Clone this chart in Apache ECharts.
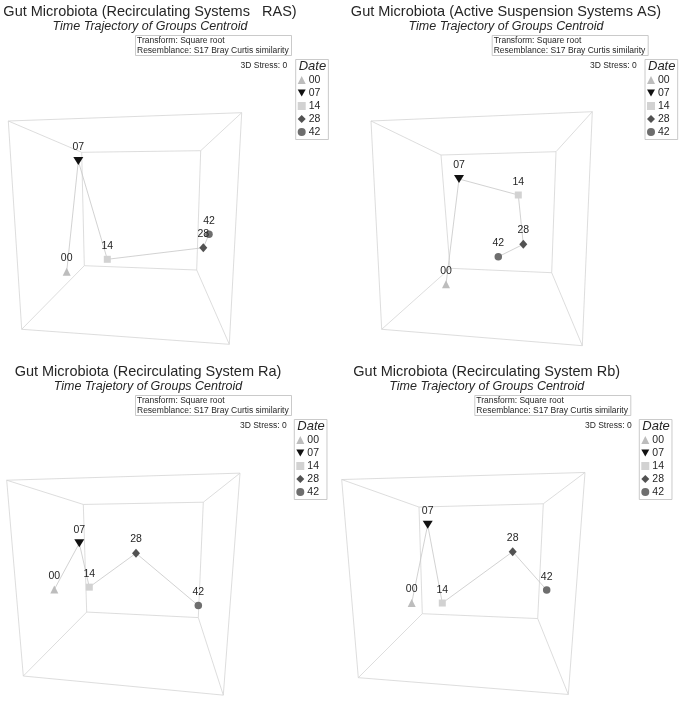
<!DOCTYPE html>
<html>
<head>
<meta charset="utf-8">
<script src="https://cdn.jsdelivr.net/npm/echarts@6/dist/echarts.min.js"></script>
<style>html,body{margin:0;padding:0;background:#fff}#c{width:680px;height:709px}</style>
</head>
<body>
<div id="c"></div>
<script>
// ---------- DATA ----------
const dates = ['00', '07', '14', '28', '42'];
const panelTitles = [
  'Gut Microbiota (Recirculating Systems   RAS)',
  'Gut Microbiota (Active Suspension Systems AS)',
  'Gut Microbiota (Recirculating System Ra)',
  'Gut Microbiota (Recirculating System Rb)'
];
const panelSubtitles = [
  'Time Trajectory of Groups Centroid',
  'Time Trajectory of Groups Centroid',
  'Time Trajetory of Groups Centroid',
  'Time Trajectory of Groups Centroid'
];
const infoText = 'Transform: Square root\nResemblance: S17 Bray Curtis similarity';
const stressText = '3D Stress: 0';
const legendTitle = 'Date';

// projected centroid positions (order = dates)
const rasX = [66.7, 78.3, 107.3, 203.3, 209.0];
const rasY = [271.7, 161.0, 259.3, 247.7, 234.3];
const asX  = [106.0, 119.0, 178.3, 183.3, 158.3];
const asY  = [284.3, 179.0, 195.0, 244.3, 256.7];
const raX  = [54.3, 79.3, 89.3, 136.0, 198.3];
const raY  = [236.7, 189.0, 234.3, 199.3, 253.3];
const rbX  = [71.7, 87.7, 102.3, 172.7, 206.7];
const rbY  = [250.7, 170.0, 250.7, 197.7, 237.3];

// projected 3D box corners: outer TL,TR,BR,BL then inner TL,TR,BR,BL
const rasBoxX = [8.3, 241.7, 229.3, 21.7, 81.7, 200.7, 196.7, 84.3];
const rasBoxY = [121.0, 112.7, 344.3, 329.3, 152.3, 150.7, 270.0, 265.7];
const asBoxX  = [31.0, 252.3, 242.3, 41.7, 101.0, 216.0, 211.7, 110.0];
const asBoxY  = [121.0, 111.7, 345.7, 329.3, 155.0, 151.7, 272.7, 268.3];
const raBoxX  = [6.7, 240.0, 223.3, 23.3, 83.3, 203.3, 198.3, 86.7];
const raBoxY  = [124.0, 116.7, 345.7, 326.0, 149.0, 146.7, 265.7, 260.0];
const rbBoxX  = [1.7, 245.0, 228.3, 18.3, 79.0, 203.3, 197.7, 82.3];
const rbBoxY  = [123.3, 116.0, 345.0, 327.7, 151.7, 148.3, 266.7, 261.7];

const boxEdges = [[0,1],[1,2],[2,3],[3,0],[4,5],[5,6],[6,7],[7,4],[0,4],[1,5],[2,6],[3,7]];

// ---------- LAYOUT / STYLE ----------
const panels = [
  {x: rasX, y: rasY, bx: rasBoxX, by: rasBoxY, ox: 0,   oy: 0,   tc: 150,   sc: 150,   info: 135,   stress: 287.3, leg: 295.7},
  {x: asX,  y: asY,  bx: asBoxX,  by: asBoxY,  ox: 340, oy: 0,   tc: 166,   sc: 165,   info: 151.7, stress: 296.7, leg: 305},
  {x: raX,  y: raY,  bx: raBoxX,  by: raBoxY,  ox: 0,   oy: 360, tc: 148,   sc: 151,   info: 135,   stress: 286.7, leg: 294.3},
  {x: rbX,  y: rbY,  bx: rbBoxX,  by: rbBoxY,  ox: 340, oy: 360, tc: 146.7, sc: 149.5, info: 134.3, stress: 291.7, leg: 299.3}
];
const FONT = 'Liberation Sans, Arial, sans-serif';
const TXT = '#262626';
const downTri = 'path://M0,0L10,0L5,9Z';
const markerStyles = {
  '00': {symbol: 'triangle', size: [8, 8], color: '#bdbdbd'},
  '07': {symbol: downTri, size: [10, 8], color: '#111111'},
  '14': {symbol: 'rect', size: [7, 7], color: '#d2d2d2'},
  '28': {symbol: 'diamond', size: [8, 9], color: '#525252'},
  '42': {symbol: 'circle', size: [7.5, 7.5], color: '#6e6e6e'}
};

const grid = [], xAxis = [], yAxis = [], series = [], title = [], legend = [];
panels.forEach((p, i) => {
  grid.push({left: p.ox, top: p.oy, width: 340, height: 360, containLabel: false});
  xAxis.push({type: 'value', gridIndex: i, min: 0, max: 340, show: false});
  yAxis.push({type: 'value', gridIndex: i, min: 0, max: 360, inverse: true, show: false});

  series.push({
    type: 'lines', coordinateSystem: 'cartesian2d', xAxisIndex: i, yAxisIndex: i, silent: true,
    lineStyle: {color: '#d4d4d4', width: 0.8, opacity: 1},
    data: boxEdges.map(e => ({coords: [[p.bx[e[0]], p.by[e[0]]], [p.bx[e[1]], p.by[e[1]]]]}))
  });
  series.push({
    type: 'line', xAxisIndex: i, yAxisIndex: i, silent: true, showSymbol: false, symbol: 'none',
    lineStyle: {color: '#c6c6c6', width: 0.8},
    data: dates.map((d, k) => [p.x[k], p.y[k]])
  });
  dates.forEach((d, k) => {
    const m = markerStyles[d];
    series.push({
      type: 'scatter', name: d, xAxisIndex: i, yAxisIndex: i,
      symbol: m.symbol, symbolSize: m.size,
      itemStyle: {color: m.color, opacity: 1},
      label: {show: true, position: 'top', distance: 4, formatter: d, fontSize: 10.5, color: TXT, fontFamily: FONT},
      data: [[p.x[k], p.y[k]]],
      z: 5
    });
  });

  title.push({
    text: panelTitles[i], subtext: panelSubtitles[i],
    left: p.ox + p.tc, top: p.oy + 4, textAlign: 'center', padding: 0, itemGap: 1,
    textStyle: {fontSize: 14.5, fontWeight: 'normal', color: TXT, fontFamily: FONT},
    subtextStyle: {fontSize: 12.5, fontStyle: 'italic', color: TXT, fontFamily: FONT, align: 'center'}
  });
  title.push({
    text: infoText, left: p.ox + p.info, top: p.oy + 35, padding: [1, 3, 0.5, 2],
    borderColor: '#bdbdbd', borderWidth: 0.8,
    textStyle: {fontSize: 8.5, lineHeight: 9.5, fontWeight: 'normal', color: TXT, fontFamily: FONT}
  });
  title.push({
    text: stressText, left: p.ox + p.stress, top: p.oy + 61, textAlign: 'right', padding: 0,
    textStyle: {fontSize: 8.5, fontWeight: 'normal', color: TXT, fontFamily: FONT}
  });
  title.push({
    text: legendTitle, left: p.ox + p.leg + 3, top: p.oy + 60, padding: 0,
    textStyle: {fontSize: 13, fontStyle: 'italic', fontWeight: 'normal', color: TXT, fontFamily: FONT}
  });
  legend.push({
    data: dates, orient: 'vertical', left: p.ox + p.leg, top: p.oy + 59.5,
    padding: [15, 8, 2, 2], itemGap: 2, itemWidth: 8, itemHeight: 8, selectedMode: false,
    borderColor: '#bdbdbd', borderWidth: 0.8,
    textStyle: {fontSize: 10.5, lineHeight: 10, color: TXT, fontFamily: FONT, padding: [0, 0, 0, -2]}
  });
});

const chart = echarts.init(document.getElementById('c'), null, {renderer: 'canvas'});
chart.setOption({
  backgroundColor: '#ffffff',
  animation: false,
  grid, xAxis, yAxis, title, legend, series
});
</script>
</body>
</html>
